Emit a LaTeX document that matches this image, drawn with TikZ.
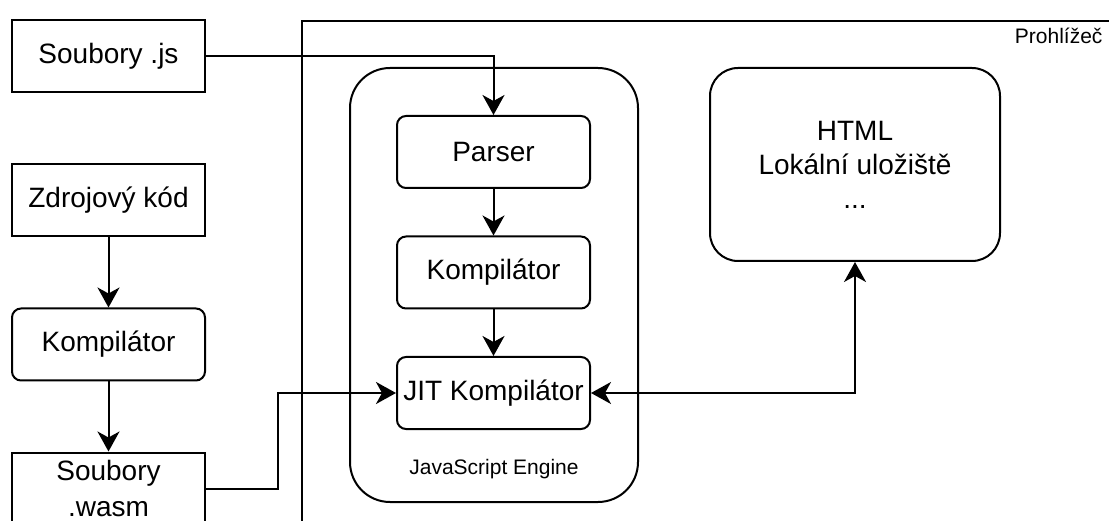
\documentclass[tikz,border=0pt]{standalone}
\usepackage{fontspec}
\setmainfont{Liberation Sans}
\usetikzlibrary{arrows.meta}

\begin{document}
\begin{tikzpicture}[x=1pt, y=-1pt, node distance=144pt]
    % Styles
    \tikzstyle{file} = [rectangle, minimum width=193pt, minimum height=72pt, text centered, align=center, draw=black, line width=2pt, font=\fontsize{28}{36}\selectfont]
    \tikzstyle{stage} = [file, rounded corners=9pt]
    \tikzstyle{caption} = [font=\fontsize{21}{25}\selectfont]
    \tikzstyle{arrow} = [line width=2pt, -{Stealth[length=20pt, width=22pt, inset=6pt]}]
    \tikzstyle{twoway} = [line width=2pt, {Stealth[length=20pt, width=22pt, inset=6pt]}-{Stealth[length=20pt, width=22pt, inset=6pt]}]

    \useasboundingbox (0,0) rectangle (1109,521);
    \clip (0,0) rectangle (1109,521);

    % Prohlížeč
    \node (browser) [rectangle, draw=black, line width=2pt, minimum width=840pt, minimum height=540pt, anchor=north west] at (301,20) {};
    \node (browserlabel) [caption, anchor=north east] at (1106,25) {Prohlížeč};

    % Levý sloupec
    \node (js) [file] at (108.5,56) {Soubory .js};
    \node (source) [file] at (108.5,200.5) {Zdrojový kód};
    \node (compiler) [stage, below of=source] {Kompilátor};
    \node (wasm) [file, below of=compiler] {Soubory\\.wasm};

    % JavaScript Engine
    \node (engine) [rectangle, rounded corners=40pt, draw=black, line width=2pt, minimum width=288pt, minimum height=434pt] at (494,285) {};
    \node (enginelabel) [caption] at (494,469) {JavaScript Engine};
    \node (parser) [stage] at (493.5,152) {Parser};
    \node (jscompiler) [stage, below of=parser, node distance=120.5pt] {Kompilátor};
    \node (jit) [stage, below of=jscompiler, node distance=120.5pt] {JIT Kompilátor};

    % Ostatní části prohlížeče
    \node (html) [stage, rounded corners=28pt, minimum width=290pt, minimum height=193pt, font=\fontsize{28}{34}\selectfont] at (855,164.5) {HTML\\Lokální uložiště\\...};

    % Šipky
    \draw [arrow] (js.east) -| (parser.north);
    \draw [arrow] (source) -- (compiler);
    \draw [arrow] (compiler) -- (wasm);
    \draw [arrow] (parser) -- (jscompiler);
    \draw [arrow] (jscompiler) -- (jit);
    \draw [arrow] (wasm.east) -- ++(72,0) |- (jit.west);
    \draw [twoway] (jit.east) -| (html.south);

\end{tikzpicture}
\end{document}
